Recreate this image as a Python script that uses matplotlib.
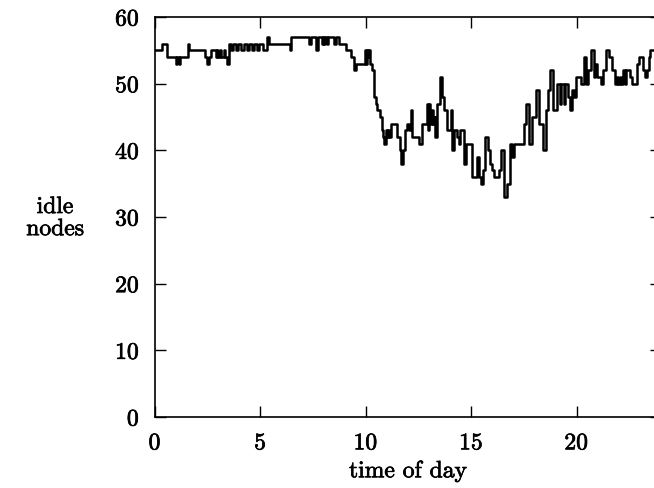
import matplotlib
matplotlib.use("Agg")
import matplotlib.pyplot as plt
import matplotlib.patheffects as pe

# time of day (hours) where the count changes, and the idle-node count from then on
hours = [
    0.0, 0.33, 0.58, 1.0, 1.05, 1.12, 1.18, 1.57, 1.63, 2.35,
    2.45, 2.55, 2.65, 2.9, 2.95, 3.0, 3.1, 3.15, 3.25, 3.3,
    3.4, 3.5, 3.6, 3.7, 3.85, 3.95, 4.1, 4.2, 4.35, 4.45,
    4.6, 4.7, 4.85, 4.95, 5.1, 5.3, 5.42, 6.4, 6.47, 7.3,
    7.4, 7.65, 7.75, 7.9, 7.95, 8.0, 8.05, 8.15, 8.2, 8.5,
    8.6, 8.75, 9.05, 9.3, 9.45, 9.55, 9.95, 10.0, 10.05, 10.1,
    10.15, 10.2, 10.3, 10.4, 10.47, 10.55, 10.65, 10.75, 10.8, 10.88,
    10.95, 11.0, 11.05, 11.1, 11.2, 11.5, 11.6, 11.68, 11.75, 11.85,
    11.95, 12.05, 12.12, 12.2, 12.5, 12.65, 12.9, 12.95, 13.0, 13.05,
    13.12, 13.2, 13.27, 13.3, 13.38, 13.5, 13.62, 13.7, 13.85, 14.03,
    14.1, 14.18, 14.33, 14.4, 14.45, 14.58, 14.67, 14.75, 15.02, 15.28,
    15.38, 15.48, 15.55, 15.65, 15.78, 15.9, 15.98, 16.08, 16.3, 16.42,
    16.55, 16.7, 16.82, 16.92, 17.02, 17.5, 17.6, 17.75, 17.88, 18.05,
    18.2, 18.38, 18.55, 18.65, 18.75, 18.9, 19.08, 19.2, 19.28, 19.38,
    19.47, 19.58, 19.68, 19.78, 19.85, 19.97, 20.2, 20.33, 20.45, 20.55,
    20.68, 20.8, 20.88, 20.95, 21.15, 21.25, 21.38, 21.55, 21.68, 21.82,
    21.9, 21.97, 22.05, 22.12, 22.2, 22.28, 22.35, 22.55, 22.62, 22.85,
    22.95, 23.15, 23.25, 23.33, 23.42, 23.5, 23.7,
]
idle = [
    55, 56, 54, 53, 54, 53, 54, 56, 55, 54,
    53, 54, 55, 54, 55, 54, 55, 54, 55, 54,
    53, 56, 55, 56, 55, 56, 55, 56, 55, 56,
    55, 56, 55, 56, 55, 57, 56, 55, 57, 56,
    57, 55, 57, 56, 57, 56, 57, 56, 57, 56,
    57, 56, 55, 54, 52, 53, 55, 53, 55, 54,
    55, 53, 52, 48, 47, 46, 45, 43, 42, 41,
    43, 42, 43, 42, 44, 42, 40, 38, 40, 43,
    44, 43, 46, 42, 41, 44, 47, 43, 47, 44,
    46, 44, 45, 42, 47, 51, 48, 46, 43, 46,
    40, 43, 42, 41, 43, 43, 38, 41, 36, 39,
    36, 35, 37, 42, 40, 38, 37, 36, 37, 40,
    33, 35, 41, 39, 41, 44, 47, 41, 45, 49,
    44, 40, 46, 49, 52, 46, 50, 47, 50, 47,
    50, 48, 46, 49, 48, 51, 50, 54, 50, 52,
    55, 51, 53, 51, 50, 52, 55, 54, 52, 50,
    51, 50, 51, 50, 52, 50, 52, 51, 50, 53,
    54, 52, 51, 52, 54, 55, 55,
]

x_ticks = [0, 5, 10, 15, 20]
y_ticks = [0, 10, 20, 30, 40, 50, 60]

plt.rcParams["font.family"] = ["cmr10", "DejaVu Serif"]
plt.rcParams["axes.formatter.use_mathtext"] = True

# scanned TeX text looks heavier than cmr10, so give it a thin outline
bold_ish = [pe.withStroke(linewidth=0.5, foreground="black")]

fig = plt.figure(figsize=(6.54, 4.88), dpi=100)
# right spine sits just past the figure edge (x = 24 is cut off in the original)
ax = fig.add_axes([155 / 654, 1 - 417 / 488, 506 / 654, 400 / 488])

ax.plot(hours, idle, drawstyle="steps-post", color="black", linewidth=1.8)

ax.set_xlim(0, 24)
ax.set_ylim(0, 60)
ax.set_xticks(x_ticks)
ax.set_yticks(y_ticks)
ax.tick_params(direction="in", length=8, width=1.0, labelsize=17,
               top=True, right=True, pad=11)
ax.tick_params(axis="y", pad=11)
for s in ax.spines.values():
    s.set_linewidth(1.2)
for lab in ax.get_xticklabels() + ax.get_yticklabels():
    lab.set_path_effects(bold_ish)

fig.text(408 / 654, 1 - 471 / 488, "time of day", ha="center", va="center",
         fontsize=17, path_effects=bold_ish)
fig.text(55 / 654, 1 - 218 / 488, "idle\nnodes", ha="center", va="center",
         fontsize=17, linespacing=1.0, path_effects=bold_ish)

fig.savefig("out.png", dpi=100)
